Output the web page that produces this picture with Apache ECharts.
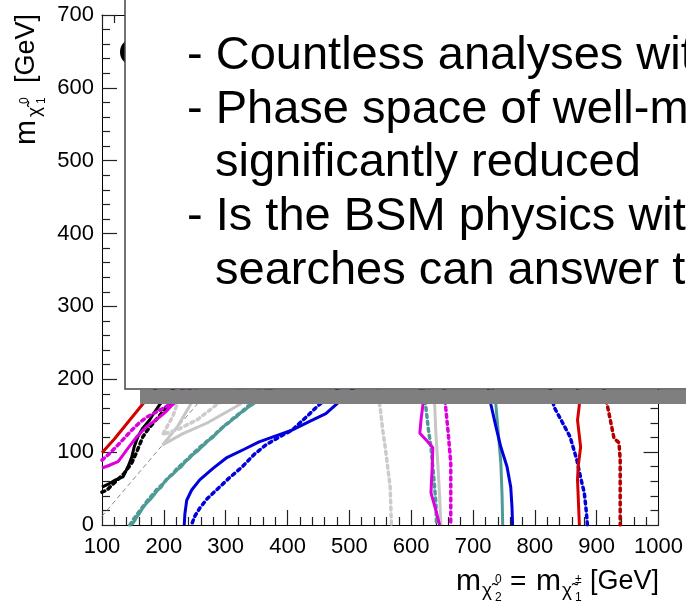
<!DOCTYPE html>
<html>
<head>
<meta charset="utf-8">
<script src="https://cdn.jsdelivr.net/npm/echarts@6/dist/echarts.min.js"></script>
<style>
html,body{margin:0;padding:0;background:#fff;}
#c{width:686px;height:610px;}
</style>
</head>
<body>
<div id="c"></div>
<script>
// axis ranges
const xRange = [100, 1000];
const yRange = [0, 700];

// slide text lines
const bulletLines = ['- Countless analyses with no sign', '- Phase space of well-motivated models', '- Is the BSM physics within reach?'];
const contLines = ['significantly reduced', 'searches can answer this'];

// exclusion contours [m_chi2 = m_chi1pm, m_chi1_0]
const redSolid = [[100,99],[120,118],[140,139],[165,165],[250,250],[400,380],[600,420],[800,380],[860,250],[872,165],[869,144],[874,107],[870,80],[869,62],[872,0]];
const redDotted = [[175,200],[400,430],[650,470],[880,320],[917,165],[923,140],[928,119],[936,113],[938,90],[938,62],[938,0]];
const magentaSolid = [[100,78],[112,82],[126,87],[133,95],[140,103],[148,112],[156,121],[164,128],[172,135],[182,141],[193,148],[204,156],[214,165],[260,200],[400,290],[560,300],[612,200],[619,165],[616,145],[614,126],[625,116],[635,106],[634,80],[632,44],[640,20],[646,0]];
const magentaDotted = [[100,89],[112,98],[126,110],[137,120],[148,130],[160,140],[172,148],[190,156],[209,165],[260,210],[400,320],[600,320],[650,220],[656,160],[660,125],[664,85],[664,40],[664,0]];
const blackSolid = [[100,52],[110,56],[122,62],[134,66],[142,80],[148,93],[152,107],[158,121],[166,133],[177,144],[185,155],[193,165],[260,230],[380,280],[480,240],[520,200]];
const blackDotted = [[100,45],[108,48],[120,58],[135,70],[148,85],[156,100],[166,121],[175,132],[185,142],[195,152],[204,162],[260,215],[380,270],[500,230],[540,200]];
const graySolid = [[262,205],[245,168],[222,135],[198,110],[230,125],[270,140],[322,165],[450,250],[600,250],[638,165],[640,125],[643,85],[646,40],[648,0]];
const grayDotted = [[235,200],[215,150],[198,124],[225,132],[255,145],[285,165],[420,240],[540,220],[550,160],[554,130],[558,107],[562,80],[566,52],[568,0]];
const grayDashed = [[100,12],[200,112],[320,232]];
const tealSolid = [[148,0],[153,6],[157,12],[160,15],[165,22],[168,24],[172,30],[178,35],[183,40],[190,48],[196,52],[200,58],[209,66],[215,70],[222,76],[228,80],[236,88],[242,92],[246,96],[254,101],[260,106],[265,110],[272,116],[279,120],[285,126],[292,131],[300,138],[306,141],[312,146],[317,148],[324,154],[330,157],[337,162],[343,165],[420,220],[600,260],[720,230],[737,165],[741,125],[745,85],[747,40],[748,0]];
const tealDotted = [[145,0],[151,8],[158,16],[166,25],[174,34],[182,42],[190,50],[198,56],[206,64],[214,70],[222,78],[230,84],[240,92],[250,100],[260,108],[270,115],[280,122],[292,132],[304,140],[316,149],[328,157],[340,166],[420,225],[560,240],[618,200],[624,160],[628,130],[632,107],[636,70],[640,30],[641,0]];
const blueSolid = [[233,0],[234,15],[237,34],[245,48],[258,62],[280,78],[301,92],[330,104],[354,114],[380,122],[407,130],[435,142],[462,153],[478,165],[560,230],[680,240],[722,200],[729,165],[737,135],[745,107],[755,80],[761,52],[763,25],[764,0]];
const blueDotted = [[246,3],[250,12],[258,23],[270,36],[285,48],[305,64],[327,80],[345,96],[365,110],[385,120],[407,130],[430,148],[451,165],[560,240],[760,250],[822,200],[831,162],[845,140],[857,121],[868,89],[874,65],[880,44],[883,20],[885,0]];

const chart = echarts.init(document.getElementById('c'));
const FONT = '"Liberation Sans", Arial, Helvetica, sans-serif';
const dot = [3, 4];

function ln(data, color, width, type) {
  return {
    type: 'line', data: data, xAxisIndex: 0, yAxisIndex: 0,
    showSymbol: false, symbol: 'none', smooth: false, clip: true,
    lineStyle: { color: color, width: width, type: type || 'solid', cap: Array.isArray(type) ? 'round' : 'butt' },
    animation: false
  };
}

function mkAxis(range, position, showLabel, isX) {
  return {
    type: 'value', min: range[0], max: range[1], interval: 100, position: position,
    axisLine: { show: true, onZero: false, lineStyle: { color: '#000', width: 1 } },
    axisTick: { show: true, inside: true, length: 15, lineStyle: { color: '#222', width: 1.2 } },
    minorTick: { show: true, splitNumber: 5, length: 8, lineStyle: { color: '#222', width: 1.2 } },
    splitLine: { show: false },
    axisLabel: { show: showLabel, color: '#000', fontSize: 22, fontFamily: FONT, margin: isX ? 11 : 8,
                 formatter: function (v) { return String(v); } }
  };
}

const textEls = [];
const FS = 47;
const baselines = [70, 124, 177, 231, 285];
const mid = 14;
const lineDefs = [[bulletLines[0], 187], [bulletLines[1], 187], [contLines[0], 215], [bulletLines[2], 187], [contLines[1], 215]];
lineDefs.forEach(function (d, i) {
  textEls.push({ type: 'text', z: 60, style: { text: d[0], x: d[1], y: baselines[i] - mid, font: FS + 'px ' + FONT, fill: '#000', textAlign: 'left', textVerticalAlign: 'middle' } });
});

function t(text, x, y, size) {
  return { type: 'text', z: 10, style: { text: text, x: x, y: y, font: size + 'px ' + FONT, fill: '#000', textAlign: 'left', textVerticalAlign: 'middle' } };
}

const option = {
  backgroundColor: '#fff',
  animation: false,
  grid: { left: 102, right: 24, top: 15, bottom: 85, containLabel: false },
  xAxis: [ mkAxis(xRange, 'bottom', true, true), mkAxis(xRange, 'top', false, true) ],
  yAxis: [ mkAxis(yRange, 'left', true, false), mkAxis(yRange, 'right', false, false) ],
  series: [
    ln(grayDashed, '#888888', 1, [4, 4]),
    ln(graySolid, '#c6c6c6', 3, 'solid'),
    ln(grayDotted, '#cccccc', 3.5, dot),
    ln(tealDotted, '#4f9a97', 3.5, dot),
    ln(tealSolid, '#4f9a97', 3, 'solid'),
    ln(blueDotted, '#0000dd', 3.5, dot),
    ln(blueSolid, '#0000dd', 3, 'solid'),
    ln(blackDotted, '#000000', 3.5, dot),
    ln(blackSolid, '#000000', 3, 'solid'),
    ln(magentaDotted, '#dd00dd', 3.5, dot),
    ln(magentaSolid, '#dd00dd', 3, 'solid'),
    ln(redDotted, '#b00000', 3.5, dot),
    ln(redSolid, '#d40000', 3, 'solid')
  ],
  graphic: [
    { type: 'ellipse', z: 40, shape: { cx: 130, cy: 52, rx: 10, ry: 12 }, style: { fill: '#000' } },
    { type: 'rect', z: 50, shape: { x: 140, y: 390, width: 560, height: 14 }, style: { fill: '#7f7f7f' } },
    { type: 'rect', z: 51, shape: { x: 125, y: -10, width: 600, height: 399 }, style: { fill: '#ffffff', stroke: '#444444', lineWidth: 1.5 } }
  ].concat(textEls).concat([
    { type: 'group', x: 36, y: 145, rotation: Math.PI / 2, z: 10, children: [
      t('m', 0, -9, 30),
      t('\u03C7\u0303', 28, -1, 19),
      t('0', 41, -11, 12),
      t('1', 41, 6, 12),
      t('[GeV]', 62, -9, 27)
    ] },
    t('m', 456, 582, 30),
    t('\u03C7\u0303', 482, 591, 19),
    t('0', 495, 580, 12),
    t('2', 495, 598, 12),
    t('=', 510, 582, 28),
    t('m', 536, 582, 30),
    t('\u03C7\u0303', 562, 591, 19),
    t('\u00B1', 575, 580, 12),
    t('1', 575, 598, 12),
    t('[GeV]', 590, 582, 27)
  ])
};
chart.setOption(option);
</script>
</body>
</html>
